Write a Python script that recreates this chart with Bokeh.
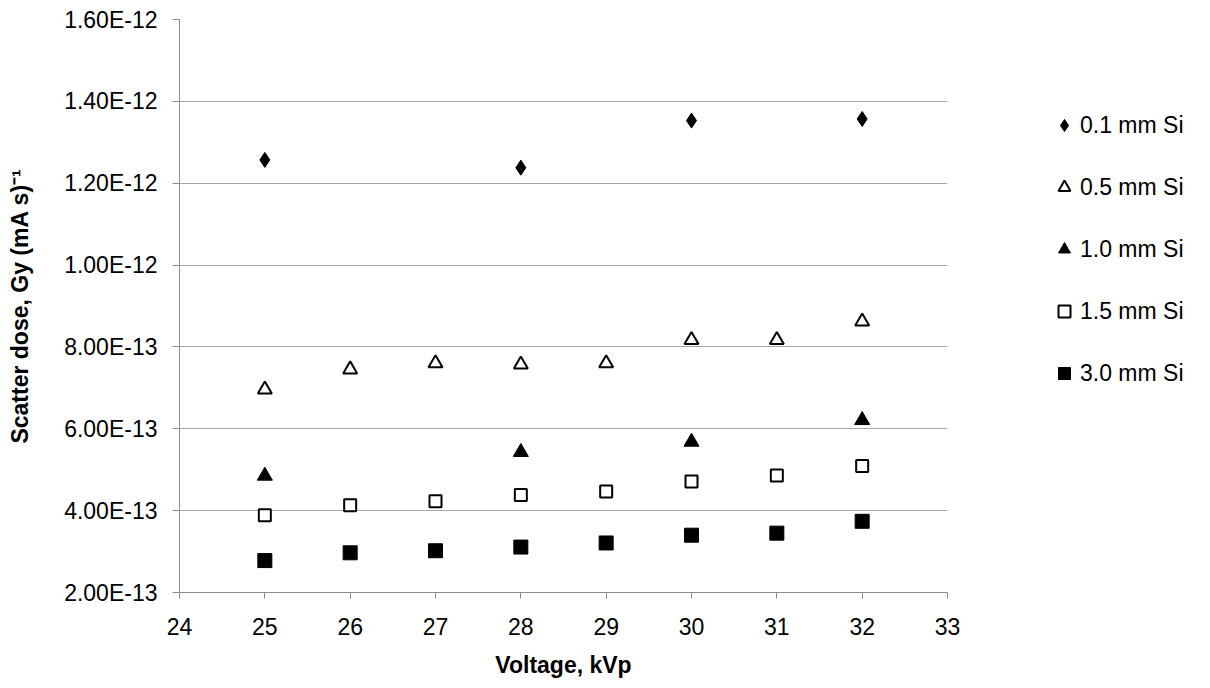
from bokeh.plotting import figure
from bokeh.models import Range1d, FixedTicker, CustomJSTickFormatter, Legend, LegendItem
from bokeh.embed import file_html
from bokeh.resources import INLINE

# ---- data ----
kvp_all = [25, 26, 27, 28, 29, 30, 31, 32]
kvp_sparse = [25, 28, 30, 32]

si_01 = [1.257e-12, 1.238e-12, 1.353e-12, 1.357e-12]
si_05 = [6.96e-13, 7.45e-13, 7.60e-13, 7.57e-13, 7.60e-13, 8.17e-13, 8.17e-13, 8.62e-13]
si_10 = [4.85e-13, 5.43e-13, 5.68e-13, 6.21e-13]
si_15 = [3.89e-13, 4.13e-13, 4.23e-13, 4.38e-13, 4.47e-13, 4.71e-13, 4.86e-13, 5.09e-13]
si_30 = [2.78e-13, 2.97e-13, 3.02e-13, 3.11e-13, 3.21e-13, 3.40e-13, 3.45e-13, 3.74e-13]

series_labels = ["0.1 mm Si", "0.5 mm Si", "1.0 mm Si", "1.5 mm Si", "3.0 mm Si"]

x_ticks = [24, 25, 26, 27, 28, 29, 30, 31, 32, 33]
y_ticks = [2e-13, 4e-13, 6e-13, 8e-13, 1.0e-12, 1.2e-12, 1.4e-12, 1.6e-12]

FONT = "Liberation Sans"

p = figure(
    frame_width=768, frame_height=573,
    min_border_left=179, min_border_top=19, min_border_bottom=94, min_border_right=255,
    x_range=Range1d(24, 33), y_range=Range1d(2e-13, 1.6e-12),
    output_backend="svg", toolbar_location=None,
)
p.outline_line_color = None
p.background_fill_color = "white"
p.border_fill_color = "white"

# grid
p.xgrid.grid_line_color = None
p.ygrid.ticker = FixedTicker(ticks=y_ticks)
p.ygrid.grid_line_color = "#a6a6a6"
p.ygrid.grid_line_width = 1

# axes
p.xaxis.ticker = FixedTicker(ticks=x_ticks)
p.yaxis.ticker = FixedTicker(ticks=y_ticks)
p.yaxis.formatter = CustomJSTickFormatter(code="return tick.toExponential(2).toUpperCase();")
for ax in (p.xaxis[0], p.yaxis[0]):
    ax.axis_line_color = "#8c8c8c"
    ax.major_tick_line_color = "#8c8c8c"
    ax.minor_tick_line_color = None
    ax.major_tick_in = 0
    ax.major_label_text_font = FONT
    ax.major_label_text_font_size = "23px"
    ax.major_label_text_color = "black"
    ax.axis_label_text_font = FONT
    ax.axis_label_text_font_style = "bold"
    ax.axis_label_text_font_size = "23px"
    ax.axis_label_text_color = "black"

p.xaxis.major_tick_out = 6
p.xaxis.major_label_standoff = 19
p.xaxis.axis_label = "Voltage, kVp"
p.xaxis.axis_label_standoff = 14

p.yaxis.major_tick_out = 7
p.yaxis.major_label_standoff = 15
p.yaxis.axis_label = "Scatter dose, Gy (mA s)\u207b\u00b9"
p.yaxis.axis_label_standoff = 28

# series
r1 = p.scatter(kvp_sparse, si_01, marker="diamond", size=15, fill_color="black", line_color="black")
r2 = p.scatter(kvp_all, si_05, marker="triangle", size=14, fill_color="white", line_color="black", line_width=2)
r3 = p.scatter(kvp_sparse, si_10, marker="triangle", size=15, fill_color="black", line_color="black")
r4 = p.scatter(kvp_all, si_15, marker="square", size=12, fill_color="white", line_color="black", line_width=2)
r5 = p.scatter(kvp_all, si_30, marker="square", size=14, fill_color="black", line_color="black")

legend = Legend(
    items=[LegendItem(label=lbl, renderers=[r]) for lbl, r in zip(series_labels, [r1, r2, r3, r4, r5])],
    location=(102, 204),
    orientation="vertical",
    glyph_width=30, glyph_height=30,
    label_standoff=1,
    spacing=32,
    padding=0,
    margin=0,
    border_line_color=None,
    background_fill_alpha=0,
    label_text_font=FONT,
    label_text_font_size="23px",
    label_text_color="black",
)
p.add_layout(legend, "right")

open("out.html", "w").write(file_html(p, INLINE))
